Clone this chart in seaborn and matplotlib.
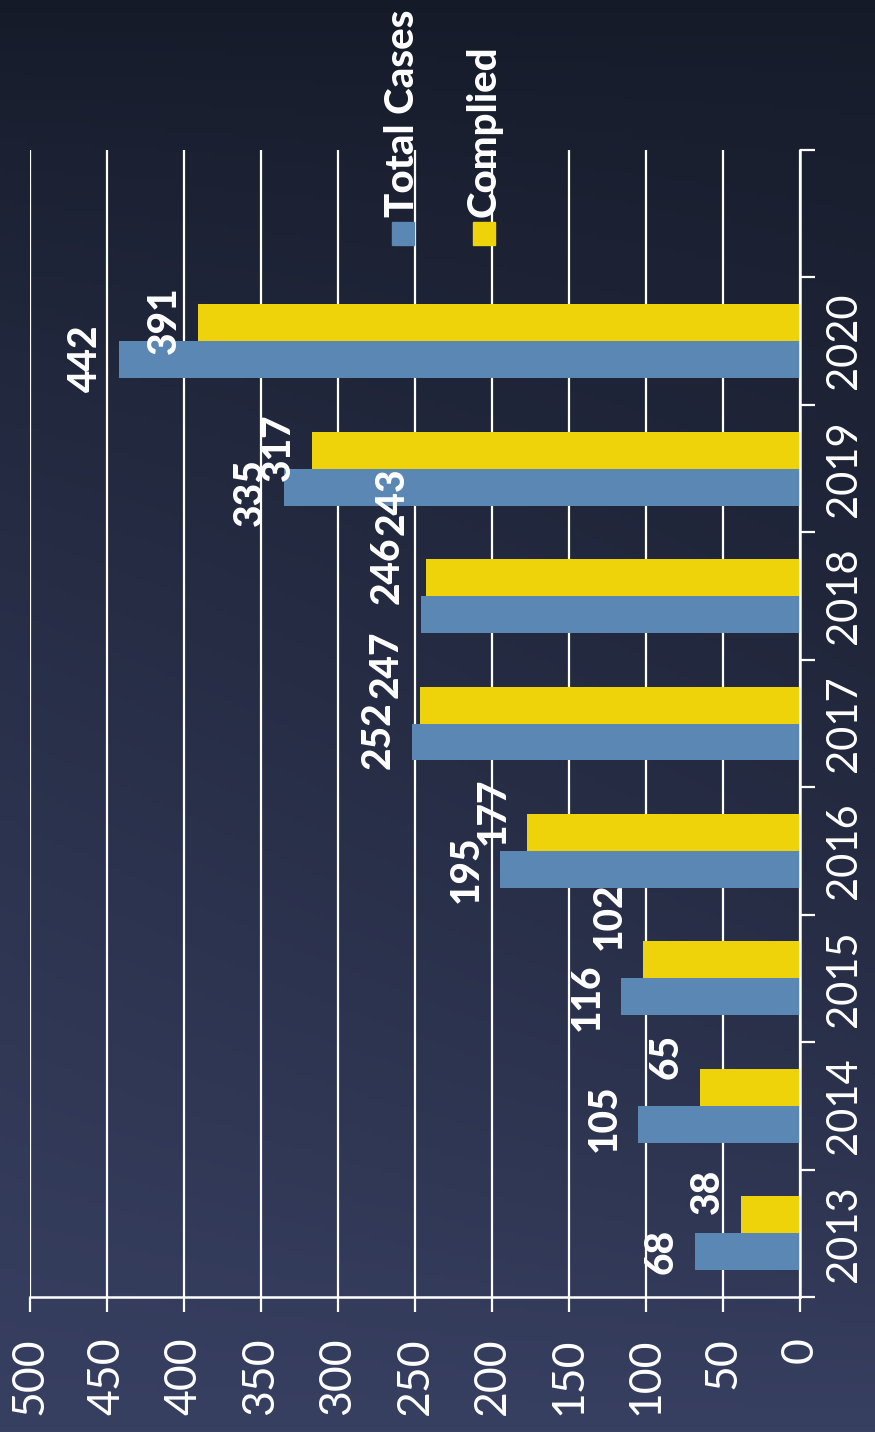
import numpy as np
import pandas as pd
import matplotlib.pyplot as plt
import seaborn as sns
from matplotlib.patches import Rectangle
from matplotlib.ticker import FixedLocator

plt.switch_backend('Agg')

# data
years = ['2013', '2014', '2015', '2016', '2017', '2018', '2019', '2020']
total_cases = [68, 105, 116, 195, 252, 246, 335, 442]
complied = [38, 65, 102, 177, 247, 243, 317, 391]
value_ticks = [0, 50, 100, 150, 200, 250, 300, 350, 400, 450, 500]

# small vertical nudges of the value labels (in bar-group units, negative = up)
nudge_total = [0, -0.05, 0, 0, -0.05, -0.35, 0.04, 0]
nudge_complied = [-0.18, -0.24, -0.34, -0.17, -0.32, -0.6, -0.02, -0.02]

blue = '#5b87b5'
yellow = '#efd30a'

df = pd.DataFrame({
    'year': years * 2,
    'value': total_cases + complied,
    'series': ['Total Cases'] * len(years) + ['Complied'] * len(years),
})

sns.set_theme(style='white')
plt.rcParams['font.family'] = ['Lato', 'DejaVu Sans']

fig = plt.figure(figsize=(8.75, 14.32), dpi=100)

# background gradient (dark top, lighter lower part)
bg = fig.add_axes([0, 0, 1, 1], zorder=-10)
ny, nx = 300, 200
yy, xx = np.mgrid[0:1:ny * 1j, 0:1:nx * 1j]
top = np.array([0x15, 0x1a, 0x28]) / 255
bot = np.array([0x38, 0x40, 0x62]) / 255
t = np.clip(yy ** 0.75, 0, 1)[..., None]
img = top * (1 - t) + bot * t
img = img * (1 - 0.18 * xx[..., None] * yy[..., None] * (1 - yy[..., None]) * 4)
bg.imshow(np.clip(img, 0, 1), extent=[0, 1, 0, 1], aspect='auto', origin='upper')
bg.axis('off')

ax = fig.add_axes([30 / 875, 1 - 1297 / 1432, 770 / 875, 1147 / 1432])
ax.patch.set_alpha(0)

order = years[::-1]
sns.barplot(data=df, y='year', x='value', hue='series', orient='h',
            order=order, hue_order=['Complied', 'Total Cases'],
            palette={'Total Cases': blue, 'Complied': yellow},
            width=0.58, saturation=1, linewidth=0, legend=False, ax=ax)

ax.set_xlim(500, 0)
ax.set_ylim(len(years) - 0.5, -1.5)
ax.set_xlabel('')
ax.set_ylabel('')

# grid + spines
ax.xaxis.set_major_locator(FixedLocator(value_ticks))
ax.grid(axis='x', color='white', linewidth=1.6)
ax.grid(axis='y', visible=False)
ax.set_axisbelow(True)
for side in ['top', 'left']:
    ax.spines[side].set_visible(False)
for side in ['bottom', 'right']:
    ax.spines[side].set_color('white')
    ax.spines[side].set_linewidth(1.8)

ax.tick_params(axis='x', colors='white', length=11, width=1.6, direction='out',
               labelsize=32, labelrotation=90, pad=18, bottom=True)
for lab in ax.get_xticklabels():
    lab.set_va('top')

ax.yaxis.tick_right()
ax.yaxis.set_minor_locator(FixedLocator(np.arange(-1.5, len(years), 1.0)))
ax.tick_params(axis='y', which='minor', right=True, length=11, width=1.6,
               color='white', direction='out')
ax.tick_params(axis='y', which='major', length=0, pad=18, labelsize=30,
               labelcolor='white', labelrotation=90)
for lab in ax.get_yticklabels():
    lab.set_va('center')

# value labels (containers follow hue_order: Complied, Total Cases)
series_vals = [complied, total_cases]
series_nudge = [nudge_complied, nudge_total]
for cont, vals, nudges in zip(ax.containers, series_vals, series_nudge):
    for bar in cont:
        val = bar.get_width()
        i = vals.index(int(round(val)))
        yc = bar.get_y() + bar.get_height() / 2 + nudges[i]
        ax.text(val + 22, yc, f'{val:.0f}', rotation=90, ha='center', va='center',
                color='white', fontsize=28, fontweight='black')

# legend drawn by hand with rotated text
for name, col, xc in [('Total Cases', blue, 403), ('Complied', yellow, 484)]:
    fig.patches.append(Rectangle(((xc - 11) / 875, 1 - 245 / 1432), 22 / 875, 23 / 1432,
                                 transform=fig.transFigure, color=col))
    fig.text(xc / 875, 1 - 217 / 1432, name, rotation=90, ha='center', va='bottom',
             color='white', fontsize=29, fontweight='black')

plt.savefig('out.png', dpi=100)
plt.close()
